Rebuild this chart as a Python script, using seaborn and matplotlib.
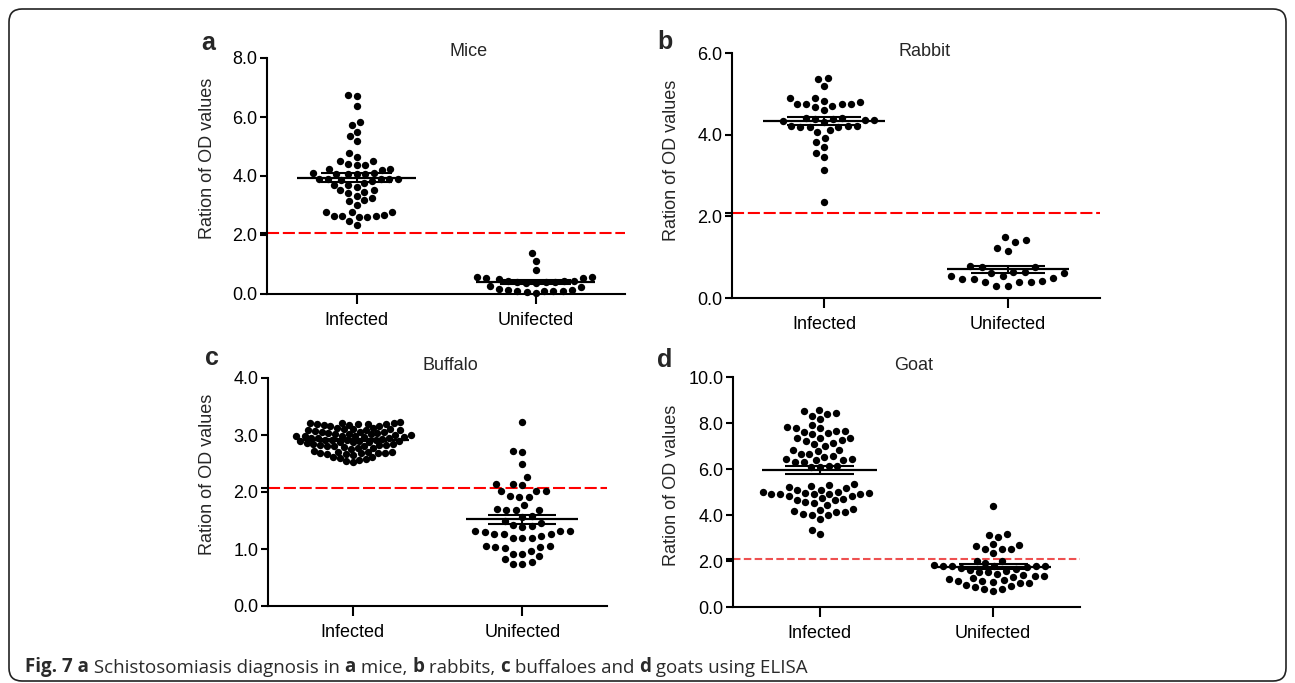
import numpy as np
import pandas as pd
import matplotlib
matplotlib.use("Agg")
import matplotlib.pyplot as plt
import seaborn as sns
from matplotlib.patches import FancyBboxPatch
from matplotlib.transforms import IdentityTransform

groups = ["Infected", "Unifected"]
cutoff = 2.07

mice_infected = [6.72, 6.74, 6.36, 5.84, 5.72, 5.50, 5.36, 5.18, 4.77, 4.66, 4.50, 4.50,
                 4.37, 4.37, 4.39, 4.25, 4.21, 4.25, 4.10, 4.08, 4.08, 4.08, 4.10, 4.08,
                 3.87, 3.82, 3.89, 3.89, 3.89, 3.89, 3.89, 3.62, 3.69, 3.71, 3.75, 3.51,
                 3.42, 3.51, 3.46, 3.33, 3.24, 3.14, 3.17, 3.03, 2.65, 2.65, 2.78, 2.78,
                 2.78, 2.60, 2.67, 2.60, 2.65, 2.49, 2.33]
mice_unifected = [1.40, 1.13, 0.81, 0.59, 0.53, 0.53, 0.57, 0.50, 0.45, 0.45, 0.42, 0.45,
                  0.42, 0.40, 0.38, 0.38, 0.28, 0.18, 0.14, 0.11, 0.11, 0.02, 0.08, 0.11,
                  0.11, 0.14, 0.23]

rabbit_infected = [5.37, 5.40, 5.20, 4.91, 4.91, 4.83, 4.80, 4.76, 4.75, 4.71, 4.75, 4.75,
                   4.60, 4.67, 4.36, 4.38, 4.40, 4.41, 4.36, 4.34, 4.31, 4.38, 4.21, 4.22,
                   4.20, 4.19, 4.21, 4.19, 4.11, 4.06, 3.92, 3.82, 3.69, 3.56, 3.46, 3.14,
                   2.35]
rabbit_unifected = [1.49, 1.36, 1.41, 1.14, 1.22, 0.79, 0.76, 0.76, 0.63, 0.61, 0.63, 0.61,
                    0.55, 0.50, 0.46, 0.38, 0.38, 0.29, 0.30, 0.38, 0.42, 0.46, 0.53]

buffalo_infected = [3.21, 3.20, 3.19, 3.21, 3.22, 3.20, 3.18, 3.21, 3.19, 3.17, 3.16, 3.15,
                    3.12, 3.10, 3.08, 3.11, 3.09, 3.06, 3.07, 3.10, 3.05, 3.12, 3.08, 3.06,
                    3.03, 3.01, 2.99, 3.02, 2.98, 3.00, 2.97, 2.96, 3.01, 2.99, 2.95, 3.03,
                    2.98, 3.00, 2.94, 2.92, 2.90, 2.93, 2.88, 2.91, 2.89, 2.87, 2.86, 2.92,
                    2.90, 2.88, 2.94, 2.91, 2.84, 2.82, 2.80, 2.83, 2.79, 2.81, 2.78, 2.76,
                    2.82, 2.80, 2.77, 2.84, 2.72, 2.69, 2.68, 2.70, 2.67, 2.69, 2.66, 2.71,
                    2.68, 2.65, 2.70, 2.62, 2.60, 2.58, 2.55, 2.53, 2.57, 2.61]
buffalo_unifected = [3.23, 2.72, 2.71, 2.50, 2.26, 2.14, 2.14, 2.12, 2.01, 2.01, 2.01, 1.93,
                     1.91, 1.91, 1.77, 1.68, 1.68, 1.68, 1.70, 1.58, 1.56, 1.50, 1.45, 1.42,
                     1.40, 1.38, 1.32, 1.32, 1.26, 1.23, 1.20, 1.27, 1.19, 1.20, 1.26, 1.29,
                     1.31, 1.05, 1.03, 1.02, 0.96, 1.03, 1.05, 0.92, 0.87, 0.91, 0.77, 0.73,
                     0.74, 0.83]

goat_infected = [8.51, 8.39, 8.17, 8.32, 8.43, 8.58,
                 7.83, 7.77, 7.65, 7.57, 7.51, 7.62, 7.65, 7.77, 7.91,
                 7.33, 7.25, 7.13, 7.01, 7.10, 7.22, 7.33, 7.36,
                 6.84, 6.77, 6.67, 6.55, 6.52, 6.67, 6.81,
                 6.32, 6.41, 6.43, 6.43, 6.32, 6.41,
                 6.12, 6.10, 6.08, 6.12,
                 5.33, 5.25, 5.16, 5.22, 5.30,
                 5.07, 4.99, 4.96, 4.93, 4.92, 4.90, 4.93, 4.93, 4.96, 5.01, 5.10,
                 4.81, 4.72, 4.67, 4.58, 4.43, 4.52, 4.64, 4.70, 4.81,
                 4.23, 4.12, 4.06, 4.00, 3.84, 4.00, 4.12, 4.17, 4.26,
                 3.16, 3.33]
goat_unifected = [4.41, 3.16, 3.06, 3.13, 2.68, 2.52, 2.51, 2.36, 2.52, 2.65, 2.74, 2.01,
                  1.99, 1.90, 1.80, 1.78, 1.80, 1.78, 1.80, 1.82, 1.65, 1.62, 1.54, 1.39,
                  1.35, 1.29, 1.20, 1.17, 1.25, 1.35, 1.43, 1.52, 1.55, 1.14, 1.09, 1.03,
                  0.91, 0.80, 0.71, 0.77, 0.86, 0.97, 1.06, 1.14, 1.70, 1.72]

sns.set_theme(style="ticks")
plt.rcParams["font.family"] = ["Liberation Sans", "DejaVu Sans"]

W, H = 1295, 683
fig = plt.figure(figsize=(W / 100, H / 100), dpi=100)


def box(left, top, right, bottom):
    return [left / W, 1 - bottom / H, (right - left) / W, (bottom - top) / H]


# letter, title, data, ymax, step, axes box (px), title pos, letter pos, ylabel pos,
# swarm layout sizes, cutoff colour, dash pattern
panels = [
    ("a", "Mice", (mice_infected, mice_unifected), 8, 2, (267, 58, 625, 294),
     (469, 52), (208, 43), (208, 158), (5.9, 6.3), "red", (5.8, 1.8)),
    ("b", "Rabbit", (rabbit_infected, rabbit_unifected), 6, 2, (732, 53, 1100, 298),
     (925, 52), (665, 42), (672, 160), (6.5, 8.0), "red", (5.8, 1.8)),
    ("c", "Buffalo", (buffalo_infected, buffalo_unifected), 4, 1, (268, 378, 607, 606),
     (450, 365), (212, 358), (208, 474), (4.7, 6.6), "red", (5.8, 1.8)),
    ("d", "Goat", (goat_infected, goat_unifected), 10, 2, (733, 377, 1080, 607),
     (914, 365), (665, 360), (672, 485), (6.1, 6.3), "#ee5050", (3.6, 1.6)),
]

dot_size = 5.3
swarms = []

for letter, title, data, ymax, step, pbox, txy, lxy, yxy, lsizes, rcol, dash in panels:
    ax = fig.add_axes(box(*pbox))
    for i, vals in enumerate(data):
        df = pd.DataFrame({"group": groups[i], "value": vals})
        n0 = len(ax.collections)
        sns.swarmplot(data=df, x="group", y="value", order=groups, color="black",
                      size=lsizes[i], linewidth=0, ax=ax, warn_thresh=1)
        swarms.extend(ax.collections[n0:])

        v = np.asarray(vals)
        m = v.mean()
        s = v.std(ddof=1) / np.sqrt(len(v))
        ax.hlines(m, i - 0.33, i + 0.33, color="black", lw=1.6, zorder=5)
        ax.hlines([m - s, m + s], i - 0.2, i + 0.2, color="black", lw=1.5, zorder=5)
        ax.vlines(i, m - s, m + s, color="black", lw=1.5, zorder=5)

    ax.axhline(cutoff, color=rcol, ls=(0, dash), lw=1.5, zorder=1)
    ax.set_xlim(-0.5, 1.5)
    ax.set_ylim(0, ymax)
    ax.set_yticks(np.arange(0, ymax + 0.01, step))
    ax.set_yticklabels([f"{t:.1f}" for t in np.arange(0, ymax + 0.01, step)])
    ax.set_yticks([cutoff], minor=True)
    ax.set_xlabel("")
    ax.set_ylabel("")
    sns.despine(ax=ax)
    for sp in ("left", "bottom"):
        ax.spines[sp].set_linewidth(1.5)
        ax.spines[sp].set_color("black")
    ax.tick_params(axis="y", which="both", length=5, width=1.5, pad=2,
                   labelsize=13, colors="black")
    ax.tick_params(axis="x", length=7, width=1.5, pad=6, labelsize=13, colors="black")

    fig.text(txy[0] / W, 1 - txy[1] / H, title, ha="center", va="center", fontsize=13)
    fig.text(lxy[0] / W, 1 - lxy[1] / H, letter, ha="center", va="center",
             fontsize=18, fontweight="bold")
    fig.text(yxy[0] / W, 1 - yxy[1] / H, "Ration of OD values", rotation=90,
             ha="center", va="center", fontsize=13)

# caption, bold parts chained after regular parts
cap = fig.add_axes([0, 0, 1, 1], zorder=-1)
cap.axis("off")
pieces = [("Fig. 7 a", "bold"), (" Schistosomiasis diagnosis in ", "normal"), ("a", "bold"),
          (" mice, ", "normal"), ("b", "bold"), (" rabbits, ", "normal"), ("c", "bold"),
          (" buffaloes and ", "normal"), ("d", "bold"), (" goats using ELISA", "normal")]
cap_font = dict(fontsize=13.5, family=["Open Sans", "DejaVu Sans"], color="#2a2a2a")
t = cap.text(25 / W, 1 - 672 / H, pieces[0][0], fontweight=pieces[0][1],
             va="baseline", ha="left", **cap_font)
for txt, w in pieces[1:]:
    t = cap.annotate(txt, xy=(1, 0), xycoords=t, va="bottom", ha="left",
                     fontweight=w, **cap_font)

fig.add_artist(FancyBboxPatch((9, 2), 1277, 672, boxstyle="round,pad=0,rounding_size=13",
                              transform=IdentityTransform(), fill=False,
                              edgecolor="#222222", lw=1.2))

# compute the swarm layout, then enlarge the dots so they overlap like the original
fig.canvas.draw()
for c in swarms:
    c.__dict__.pop("draw", None)
    c.set_sizes([dot_size ** 2])
    c.set_clip_on(False)

fig.savefig("out.png", dpi=100)
